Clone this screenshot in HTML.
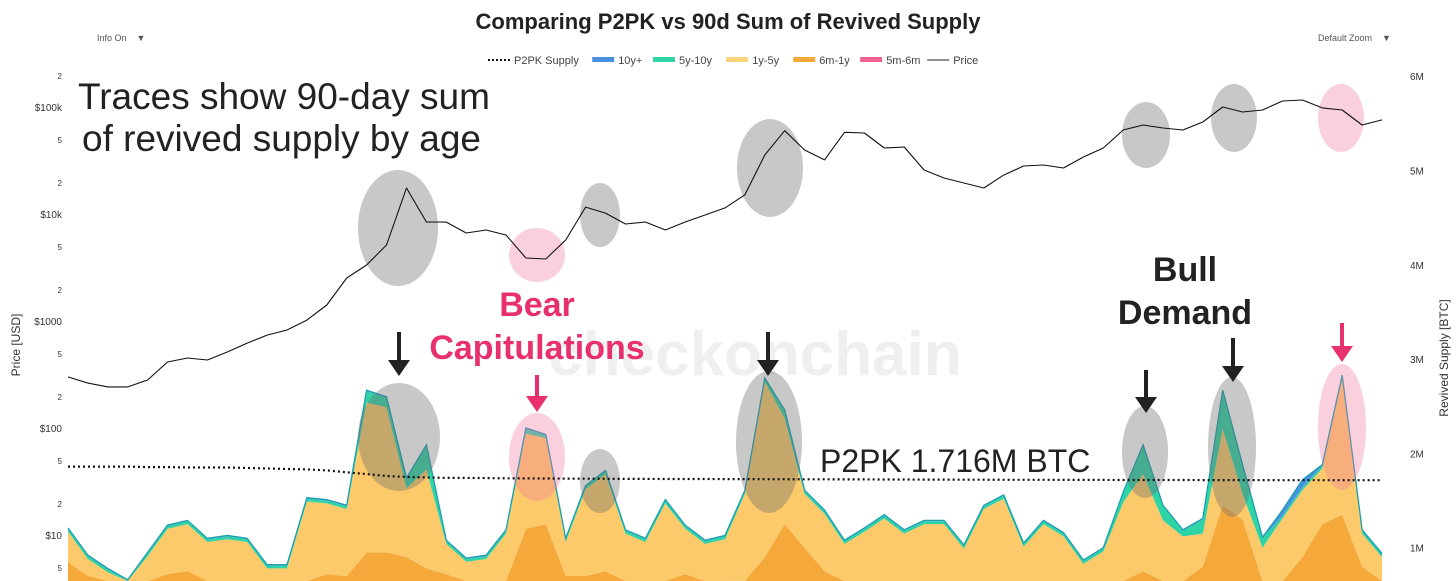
<!DOCTYPE html>
<html><head><meta charset="utf-8"><style>
html,body{margin:0;padding:0;background:#fff;width:1456px;height:581px;overflow:hidden}
svg{display:block;font-family:"Liberation Sans",sans-serif;overflow:hidden}
</style></head><body>
<svg id="chart" width="1456" height="581" viewBox="0 0 1456 581" xmlns="http://www.w3.org/2000/svg">
<text x="728" y="29" text-anchor="middle" font-size="22" font-weight="bold" fill="#222">Comparing P2PK vs 90d Sum of Revived Supply</text>
<text x="97" y="41" font-size="9" fill="#555">Info On &#160;&#160;&#160;▼</text>
<text x="1318" y="41" font-size="9" fill="#555">Default Zoom &#160;&#160;&#160;▼</text>
<g id="legend" font-size="11" fill="#444"></g>
<g id="watermark"><text x="755" y="375" text-anchor="middle" font-size="62" font-weight="bold" fill="#efefef">checkonchain</text></g>
<g id="areas"></g>
<g id="ann"></g>
<g id="lines"></g>
<g id="axes" font-size="10" fill="#333"></g>
<g>
<text x="78" y="109" font-size="37" fill="#222">Traces show 90-day sum</text>
<text x="82" y="151" font-size="37" fill="#222">of revived supply by age</text>
<text x="537" y="316" text-anchor="middle" font-size="34" font-weight="bold" fill="#e8306e">Bear</text>
<text x="537" y="359" text-anchor="middle" font-size="34" font-weight="bold" fill="#e8306e">Capitulations</text>
<text x="1185" y="281" text-anchor="middle" font-size="34" font-weight="bold" fill="#222">Bull</text>
<text x="1185" y="324" text-anchor="middle" font-size="34" font-weight="bold" fill="#222">Demand</text>
<text x="820" y="472" font-size="32" fill="#222">P2PK 1.716M BTC</text>
</g>
</svg>
<script>
const supply6m1y=[0.85,0.7,0.55,0.5,0.55,0.72,0.75,0.6,0.5,0.5,0.45,0.45,0.6,0.72,0.7,0.95,0.95,0.9,0.78,0.72,0.5,0.55,0.6,1.2,1.25,0.7,0.7,0.75,0.6,0.5,0.6,0.72,0.55,0.6,0.65,0.9,1.25,1.0,0.75,0.6,0.55,0.5,0.6,0.5,0.55,0.5,0.6,0.55,0.6,0.5,0.5,0.5,0.6,0.6,0.75,0.55,0.5,0.8,1.45,1.3,0.55,0.6,0.9,1.25,1.35,0.8,0.45];
const supply1y5y=[0.32,0.18,0.19,0.12,0.36,0.48,0.5,0.46,0.59,0.56,0.33,0.33,0.89,0.75,0.71,1.59,1.54,0.73,1.05,0.32,0.35,0.33,0.55,1.01,0.91,0.36,0.92,1.03,0.55,0.56,0.87,0.48,0.49,0.49,0.92,1.86,1.12,0.57,0.61,0.44,0.62,0.81,0.55,0.75,0.7,0.49,0.81,0.97,0.41,0.75,0.62,0.33,0.36,0.88,1.03,0.74,0.62,0.35,0.81,0.27,0.45,0.71,0.71,0.59,1.44,0.35,0.45];
const supply5y10y=[0.03,0.03,0.03,0.03,0.03,0.03,0.03,0.03,0.03,0.03,0.03,0.03,0.03,0.03,0.03,0.12,0.1,0.1,0.25,0.03,0.03,0.03,0.03,0.05,0.03,0.03,0.03,0.03,0.03,0.03,0.03,0.03,0.03,0.03,0.03,0.03,0.08,0.03,0.03,0.03,0.03,0.03,0.03,0.03,0.03,0.03,0.03,0.03,0.03,0.03,0.03,0.03,0.03,0.1,0.3,0.15,0.06,0.15,0.4,0.3,0.1,0.03,0.03,0.03,0.03,0.03,0.03];
const supply10y=[0.01,0.01,0.01,0.01,0.01,0.01,0.01,0.01,0.01,0.01,0.01,0.01,0.01,0.01,0.01,0.01,0.01,0.01,0.01,0.01,0.01,0.01,0.01,0.01,0.01,0.01,0.01,0.01,0.01,0.01,0.01,0.01,0.01,0.01,0.01,0.01,0.01,0.01,0.01,0.01,0.01,0.01,0.01,0.01,0.01,0.01,0.01,0.01,0.01,0.01,0.01,0.01,0.01,0.01,0.01,0.01,0.01,0.01,0.01,0.01,0.01,0.06,0.08,0.01,0.01,0.01,0.01];
const price=[300,263,242,242,281,414,451,432,513,622,739,824,1020,1412,2523,3335,5130,17500,8410,8400,6640,7080,6360,3880,3800,5710,11600,10200,8070,8410,7080,8410,9790,11400,15100,35600,60000,39600,32000,58000,57100,41400,42300,25800,21700,19500,17500,23100,28100,28700,26900,34100,41400,61000,67900,63700,61000,72400,100000,89800,93700,113800,116200,98000,93700,67900,75700];
const p2pk=[1.86,1.86,1.86,1.86,1.855,1.855,1.85,1.85,1.85,1.845,1.84,1.835,1.83,1.82,1.8,1.78,1.76,1.75,1.745,1.74,1.74,1.738,1.736,1.735,1.734,1.733,1.732,1.731,1.73,1.73,1.729,1.728,1.728,1.727,1.727,1.726,1.726,1.725,1.725,1.724,1.724,1.723,1.723,1.722,1.722,1.721,1.721,1.72,1.72,1.72,1.719,1.719,1.719,1.718,1.718,1.718,1.718,1.717,1.717,1.717,1.717,1.716,1.716,1.716,1.716,1.716,1.716];
const leftTicks=[["2",200000],["$100k",100000],["5",50000],["2",20000],["$10k",10000],["5",5000],["2",2000],["$1000",1000],["5",500],["2",200],["$100",100],["5",50],["2",20],["$10",10],["5",5]];
const rightTicks=[["6M",6],["5M",5],["4M",4],["3M",3],["2M",2],["1M",1]];
const legendItems=[["P2PK Supply","dot","#111"],["10y+","bar","#4a90e2"],["5y-10y","bar","#2ed3a6"],["1y-5y","bar","#fcd27a"],["6m-1y","bar","#f6a93b"],["5m-6m","bar","#f06292"],["Price","line","#222"]];

const NS="http://www.w3.org/2000/svg";
const X0=68,X1=1382;
const xs=i=>X0+(X1-X0)*i/(price.length-1);
const yS=v=>642-94.3*v;
const yC=v=>Math.min(581,yS(v));
const yP=p=>107-107*(Math.log10(p)-5);
function mk(tag,attrs,parent){const e=document.createElementNS(NS,tag);for(const k in attrs)e.setAttribute(k,attrs[k]);parent.appendChild(e);return e;}
const areas=document.getElementById('areas');
const layers=[supply6m1y,supply1y5y,supply5y10y,supply10y];
const cols=["#f6a93b","#fcca6a","#2ed3a6","#4a90e2"];
const names=["area-6m-1y","area-1y-5y","area-5y-10y","area-10y-plus"];
let base=price.map(()=>0);
layers.forEach((L,k)=>{
  const top=base.map((b,i)=>b+L[i]);
  let d="M"+xs(0)+","+yC(top[0]);
  for(let i=1;i<top.length;i++)d+="L"+xs(i).toFixed(1)+","+yC(top[i]).toFixed(1);
  for(let i=top.length-1;i>=0;i--)d+="L"+xs(i).toFixed(1)+","+yC(base[i]).toFixed(1);
  const p=mk('path',{d:d+"Z",fill:cols[k]},areas);
  
  
  base=top;
});
let td="";base.forEach((v,i)=>{td+=(i?"L":"M")+xs(i).toFixed(1)+","+yC(v).toFixed(1);});
const tl=mk('path',{d:td,fill:"none",stroke:"#1b9fb0","stroke-width":1.3},areas);



const ann=document.getElementById('ann');
const ells=[[398,228,40,58,"g"],[537,255,28,27,"p"],[600,215,20,32,"g"],[770,168,33,49,"g"],[1146,135,24,33,"g"],[1234,118,23,34,"g"],[1341,118,23,34,"p"],[399,437,41,54,"g"],[537,457,28,44,"p"],[600,481,20,32,"g"],[769,442,33,71,"g"],[1145,452,23,46,"g"],[1232,447,24,70,"g"],[1342,427,24,63,"p"]];
ells.forEach(e=>{const el=mk('ellipse',{cx:e[0],cy:e[1],rx:e[2],ry:e[3],fill:e[4]=="g"?"rgba(110,110,110,0.38)":"rgba(240,120,160,0.35)"},ann);

});
const arrows=[[399,332,376,"#222"],[537,375,412,"#e8306e"],[768,332,376,"#222"],[1146,370,413,"#222"],[1233,338,382,"#222"],[1342,323,362,"#e8306e"]];
arrows.forEach(a=>{const g=mk('g',{},ann);


mk('line',{x1:a[0],y1:a[1],x2:a[0],y2:a[2]-14,stroke:a[3],"stroke-width":4},g);
mk('polygon',{points:`${a[0]-11},${a[2]-16} ${a[0]+11},${a[2]-16} ${a[0]},${a[2]}`,fill:a[3]},g);});

const lines=document.getElementById('lines');
let pd="";p2pk.forEach((v,i)=>{pd+=(i?"L":"M")+xs(i).toFixed(1)+","+yS(v).toFixed(1);});
const pl=mk('path',{d:pd,fill:"none",stroke:"#111","stroke-width":2.2,"stroke-dasharray":"2,3"},lines);


let prd="";price.forEach((v,i)=>{prd+=(i?"L":"M")+xs(i).toFixed(1)+","+yP(v).toFixed(1);});
const prl=mk('path',{d:prd,fill:"none",stroke:"#111","stroke-width":1.1,"stroke-linejoin":"round"},lines);



const axes=document.getElementById('axes');
leftTicks.forEach(t=>{const el=mk('text',{x:62,y:yP(t[1])+4,"text-anchor":"end","font-size":t[0].length>1?10:8},axes);el.textContent=t[0];

});
rightTicks.forEach(t=>{const el=mk('text',{x:1410,y:yS(t[1])+4,"font-size":10},axes);el.textContent=t[0];

});
const lt=mk('text',{x:0,y:0,transform:"translate(20,345) rotate(-90)","text-anchor":"middle","font-size":12},axes);lt.textContent="Price [USD]";


const rt=mk('text',{x:0,y:0,transform:"translate(1448,358) rotate(-90)","text-anchor":"middle","font-size":12},axes);rt.textContent="Revived Supply [BTC]";



const lg=document.getElementById('legend');
let lx=488;
legendItems.forEach(it=>{const g=mk('g',{},lg);


if(it[1]=="dot")mk('line',{x1:lx,y1:60,x2:lx+22,y2:60,stroke:it[2],"stroke-width":2,"stroke-dasharray":"2,2"},g);
else if(it[1]=="bar")mk('rect',{x:lx,y:57,width:22,height:5,fill:it[2]},g);
else mk('line',{x1:lx,y1:60,x2:lx+22,y2:60,stroke:it[2],"stroke-width":1},g);
const t=mk('text',{x:lx+26,y:64},g);t.textContent=it[0];
lx+=26+it[0].length*6.2+10;});
</script>
</body></html>
